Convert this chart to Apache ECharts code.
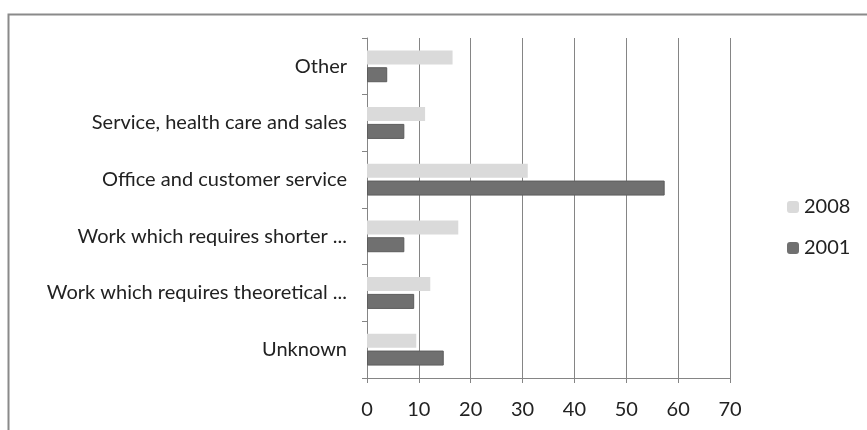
<!DOCTYPE html>
<html>
<head>
<meta charset="utf-8">
<script src="https://cdn.jsdelivr.net/npm/echarts@6/dist/echarts.min.js"></script>
<style>
  html, body { margin: 0; padding: 0; background: #fff; }
  #chart { width: 867px; height: 430px; }
</style>
</head>
<body>
<div id="chart"></div>
<script>
// categories from top to bottom
const categories = [
  'Other',
  'Service, health care and sales',
  'Office and customer service',
  'Work which requires shorter ...',
  'Work which requires theoretical ...',
  'Unknown'
]
const values2008 = [16.5, 11.2, 31, 17.6, 12.2, 9.5]
const values2001 = [3.9, 7.2, 57.4, 7.2, 9.1, 14.8]
const xTicks = [0, 10, 20, 30, 40, 50, 60, 70]

const chart = echarts.init(document.getElementById('chart'))

const option = {
  animation: false,
  textStyle: { fontFamily: 'Lato' },
  // outer frame of the chart
  graphic: [{
    type: 'rect',
    left: 6,
    top: 12,
    shape: { width: 870, height: 430 },
    style: { fill: 'none', stroke: '#8a8a8a', lineWidth: 2 },
    silent: true
  }],
  grid: {
    left: 367,
    right: 137,
    top: 38,
    bottom: 52
  },
  legend: {
    orient: 'vertical',
    left: 782,
    top: 192,
    itemWidth: 12,
    itemHeight: 12,
    itemGap: 21,
    data: ['2008', '2001'],
    itemStyle: { borderWidth: 0 },
    textStyle: { fontSize: 20, color: '#222', fontFamily: 'Lato' }
  },
  xAxis: {
    type: 'value',
    min: xTicks[0],
    max: xTicks[xTicks.length - 1],
    interval: 10,
    axisLine: { show: true, lineStyle: { color: '#858585', width: 1 } },
    axisTick: { show: true, length: 5, lineStyle: { color: '#858585' } },
    axisLabel: { fontSize: 20, color: '#222', margin: 22 },
    splitLine: { show: true, lineStyle: { color: '#858585', width: 1 } }
  },
  yAxis: {
    type: 'category',
    data: categories,
    inverse: true,
    axisLine: { show: true, lineStyle: { color: '#858585', width: 1 } },
    axisTick: { show: true, length: 5, lineStyle: { color: '#858585' } },
    axisLabel: { fontSize: 20, color: '#222', margin: 20 }
  },
  series: [
    {
      name: '2008',
      type: 'bar',
      data: values2008,
      barWidth: 14,
      barGap: '20%',
      itemStyle: { color: '#dadada' }
    },
    {
      name: '2001',
      type: 'bar',
      data: values2001,
      barWidth: 15,
      barGap: '20%',
      itemStyle: { color: '#707070', borderColor: '#5c5c5c', borderWidth: 1 }
    }
  ]
}

chart.setOption(option)
</script>
</body>
</html>
